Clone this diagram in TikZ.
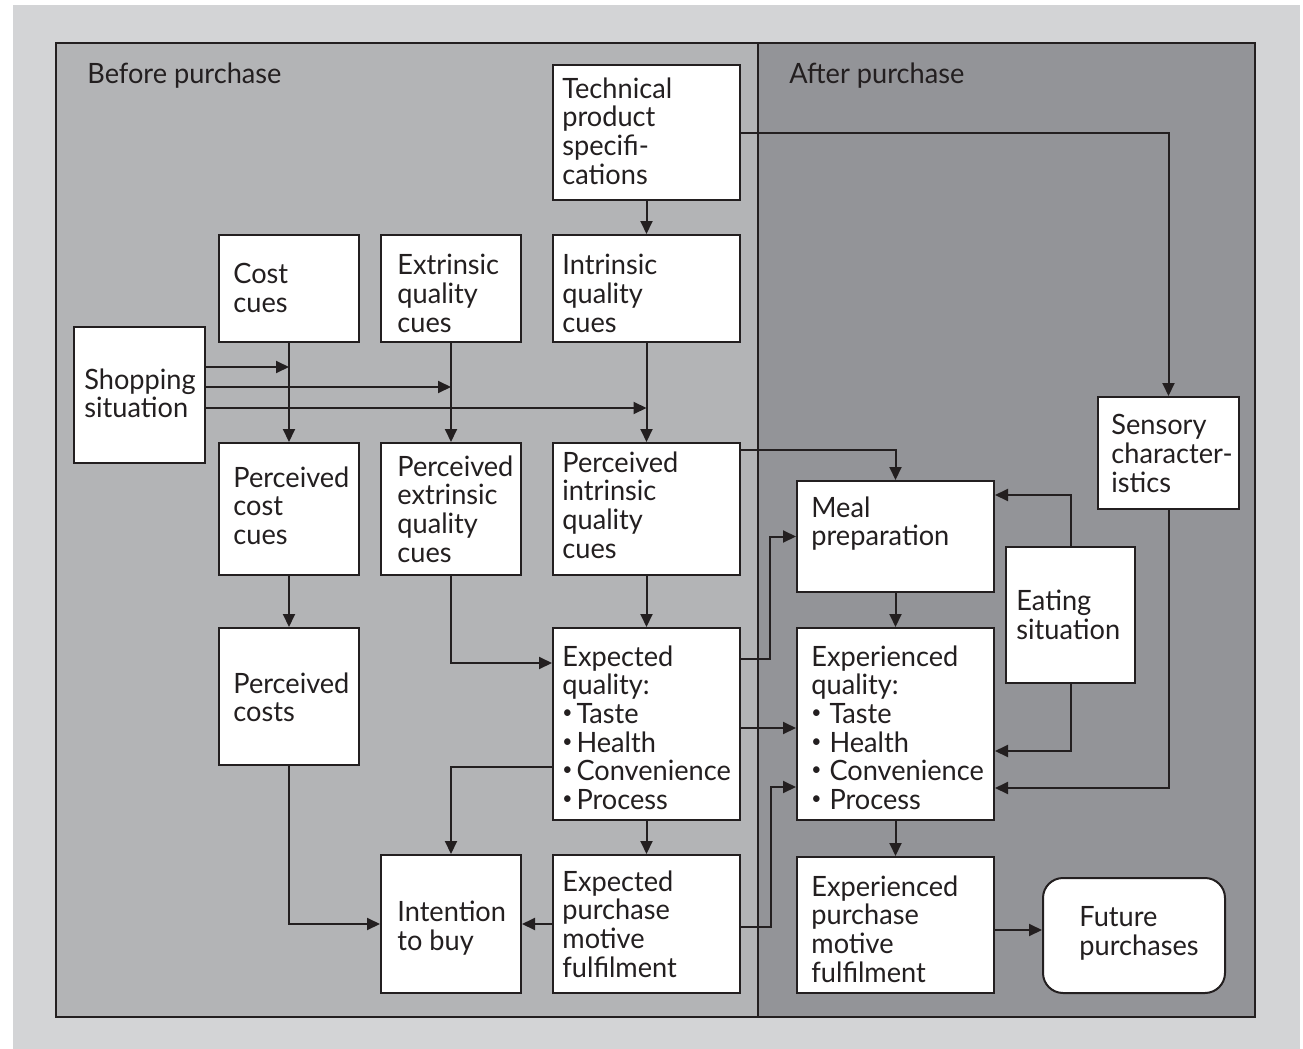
\documentclass[tikz,border=0pt]{standalone}
\usepackage{fontspec}
\setmainfont{Lato}[FakeStretch=0.97]
\usetikzlibrary{arrows.meta,fit}
\definecolor{outerbg}{HTML}{D3D4D6}
\definecolor{leftbg}{HTML}{B3B4B6}
\definecolor{rightbg}{HTML}{939498}
\definecolor{ink}{HTML}{231F20}
\newcommand\bul{\raisebox{0.35ex}{\fontsize{9}{9}\selectfont\textbullet}}
\begin{document}
\begin{tikzpicture}[x=0.5pt,y=-0.5pt,
  box/.style={draw=ink,fill=white,line width=1pt,inner sep=0pt},
  txt/.style={anchor=north west,inner sep=0pt,align=left,text=ink,font=\fontsize{14}{14.35}\selectfont},
  arr/.style={draw=ink,line width=1pt,-{Triangle[length=6.5pt,width=6pt]}}]
\useasboundingbox (0,0) rectangle (1303,1049);
\fill[outerbg] (13,5) rectangle (1300,1049);
\fill[leftbg] (56,43) rectangle (758,1017);
\fill[rightbg] (758,43) rectangle (1255,1017);
\draw[ink,line width=1pt] (56,43) rectangle (1255,1017);
\draw[ink,line width=1pt] (758,43) -- (758,1017);
\node[txt] (before) at (87,62) {Before purchase};
\node[txt] (after) at (789,62) {After purchase};
% boxes
\node[box,fit={(553,65) (740,200)}] (tech) {};
\node[box,fit={(219,235) (359,342)}] (cost) {};
\node[box,fit={(381,235) (521,342)}] (ext) {};
\node[box,fit={(553,235) (740,342)}] (intr) {};
\node[box,fit={(74,327) (205,463)}] (shop) {};
\node[box,fit={(219,443) (359,575)}] (pcost) {};
\node[box,fit={(381,443) (521,575)}] (pext) {};
\node[box,fit={(553,443) (740,575)}] (pint) {};
\node[box,fit={(219,628) (359,765)}] (pcosts) {};
\node[box,fit={(553,628) (740,820)}] (expq) {};
\node[box,fit={(381,855) (521,993)}] (int) {};
\node[box,fit={(553,855) (740,993)}] (exppm) {};
\node[box,fit={(797,481) (994,592)}] (meal) {};
\node[box,fit={(797,628) (994,820)}] (expe) {};
\node[box,fit={(1006,547) (1135,683)}] (eat) {};
\node[box,fit={(1098,397) (1239,509)}] (sens) {};
\node[box,fit={(797,857) (994,993)}] (expp) {};
\node[box,rounded corners=10pt,fit={(1043,878) (1225,993)}] (fut) {};
% texts
\node[txt] (tech-t) at (562,77) {Technical\\product\\specifi-\\cations};
\node[txt] (cost-t) at (233,263) {Cost\\cues};
\node[txt] (ext-t) at (397,254) {Extrinsic\\quality\\cues};
\node[txt] (intr-t) at (562,254) {Intrinsic\\quality\\cues};
\node[txt] (shop-t) at (84,368) {Shopping\\situation};
\node[txt] (pcost-t) at (233,466) {Perceived\\cost\\cues};
\node[txt] (pext-t) at (397,455) {Perceived\\extrinsic\\quality\\cues};
\node[txt] (pint-t) at (562,451) {Perceived\\intrinsic\\quality\\cues};
\node[txt] (pcosts-t) at (233,672) {Perceived\\costs};
\node[txt] (expq-t) at (562,645) {Expected\\quality:\\\bul\hspace{2pt}Taste\\\bul\hspace{2pt}Health\\\bul\hspace{2pt}Convenience\\\bul\hspace{2pt}Process};
\node[txt] (int-t) at (397,901) {Intention\\to buy};
\node[txt] (exppm-t) at (562,870) {Expected\\purchase\\motive\\fulfilment};
\node[txt] (meal-t) at (811,496) {Meal\\preparation};
\node[txt] (expe-t) at (811,645) {Experienced\\quality:\\\bul\hspace{4pt}Taste\\\bul\hspace{4pt}Health\\\bul\hspace{4pt}Convenience\\\bul\hspace{4pt}Process};
\node[txt] (eat-t) at (1016,590) {Eating\\situation};
\node[txt] (sens-t) at (1111,414) {Sensory\\character-\\istics};
\node[txt] (expp-t) at (811,875) {Experienced\\purchase\\motive\\fulfilment};
\node[txt] (fut-t) at (1079,906) {Future\\purchases};
% connectors
\draw[arr] (tech.south) -- (intr.north);
\draw[arr] (tech.east) -| (sens.north);
\draw[arr] (cost.south) -- (pcost.north);
\draw[arr] (ext.south) -- (pext.north);
\draw[arr] (intr.south) -- (pint.north);
\draw[arr] (shop.east |- 0,367) -- (cost.south |- 0,367);
\draw[arr] (shop.east |- 0,387) -- (ext.south |- 0,387);
\draw[arr] (shop.east |- 0,408) -- (intr.south |- 0,408);
\draw[arr] (pcost.south) -- (pcosts.north);
\draw[arr] (pext.south) |- (expq.west |- 0,663);
\draw[arr] (pint.south) -- (expq.north);
\draw[arr] (pint.east |- 0,450) -| (meal.north);
\draw[arr] (expq.east |- 0,659) -- (770,659) |- (meal.west);
\draw[arr] (expq.east |- 0,728) -- (expe.west |- 0,728);
\draw[arr] (expq.west |- 0,767) -| (int.north);
\draw[arr] (expq.south) -- (exppm.north);
\draw[arr] (pcosts.south) |- (int.west);
\draw[arr] (exppm.west) -- (int.east);
\draw[arr] (exppm.east |- 0,927) -- (771,927) |- (expe.west |- 0,787);
\draw[arr] (meal.south) -- (expe.north);
\draw[arr] (eat.north) |- (meal.east |- 0,495);
\draw[arr] (eat.south) |- (expe.east |- 0,751);
\draw[arr] (sens.south) |- (expe.east |- 0,788);
\draw[arr] (expe.south) -- (expp.north);
\draw[arr] (expp.east |- 0,930) -- (fut.west |- 0,930);
\end{tikzpicture}
\end{document}
